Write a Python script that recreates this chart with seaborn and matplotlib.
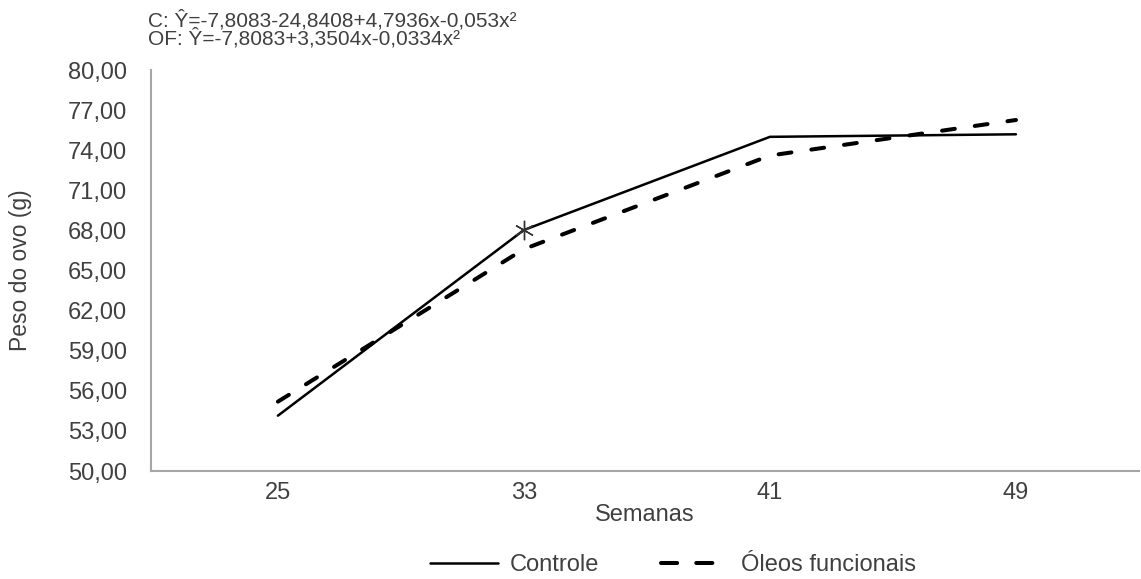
import numpy as np
import pandas as pd
import matplotlib
matplotlib.use("Agg")
import matplotlib.pyplot as plt
import seaborn as sns
from matplotlib.ticker import FuncFormatter

# Egg weight by week of age for each treatment
semanas = [25, 33, 41, 49]
controle = [54.14, 68.03, 75.00, 75.19]
oleos_funcionais = [55.19, 66.60, 73.60, 76.26]
series_nomes = ["Controle", "Óleos funcionais"]
eq_controle = "C: Ŷ=-7,8083-24,8408+4,7936x-0,053x²"
eq_oleos = "OF: Ŷ=-7,8083+3,3504x-0,0334x²"
y_ticks = [50, 53, 56, 59, 62, 65, 68, 71, 74, 77, 80]

df = pd.DataFrame({
    "Semanas": semanas * 2,
    "Peso": controle + oleos_funcionais,
    "Tratamento": [series_nomes[0]] * len(semanas) + [series_nomes[1]] * len(semanas),
})

sns.set_theme(style="white")
plt.rcParams["font.family"] = ["Liberation Sans", "DejaVu Sans"]
text_color = "#404040"

fig = plt.figure(figsize=(11.41, 5.79), dpi=100)
ax = fig.add_axes([0.1323, 0.1865, 0.8659, 0.6926])

sns.lineplot(
    data=df, x="Semanas", y="Peso", style="Tratamento",
    style_order=series_nomes,
    dashes={series_nomes[0]: "", series_nomes[1]: (3.2, 5)},
    color="black", ax=ax, legend=False,
)
lines = ax.get_lines()
lines[0].set_linewidth(1.8)
lines[1].set_linewidth(2.9)
lines[1].set_dash_capstyle("round")

# significance mark on the Controle curve at week 33
ax.plot([semanas[1]], [controle[1]], linestyle="none", marker=(6, 2, 0),
        markersize=14, markeredgewidth=1.0, color="#333333")

ax.set_xlim(semanas[0] - 0.516 * 8, semanas[-1] + 0.5 * 8)
ax.set_ylim(50, 80)
ax.set_xticks(semanas)
ax.set_yticks(y_ticks)
ax.yaxis.set_major_formatter(FuncFormatter(lambda v, p: f"{v:.2f}".replace(".", ",")))
ax.tick_params(axis="both", length=0, labelsize=17, colors=text_color)
ax.tick_params(axis="y", pad=17)
ax.tick_params(axis="x", pad=8)

for side in ["top", "right"]:
    ax.spines[side].set_visible(False)
for side in ["left", "bottom"]:
    ax.spines[side].set_color("#a6a6a6")
    ax.spines[side].set_linewidth(1.5)

ax.set_xlabel("Semanas", fontsize=17, color=text_color, labelpad=0)
ax.set_ylabel("Peso do ovo (g)", fontsize=16.5, color=text_color)
ax.yaxis.set_label_coords(-0.1204, 0.5)

# regression equations, stacked tightly above the plot
fig.text(148 / 1141, 1 - 10 / 579, eq_controle + "\n" + eq_oleos, fontsize=15,
         color=text_color, ha="left", va="top", linespacing=0.84)

handles = [
    plt.Line2D([], [], color="black", linewidth=1.8),
    plt.Line2D([], [], color="black", linewidth=2.9, dashes=(4, 4.75),
               dash_capstyle="round"),
]
fig.legend(handles, series_nomes, loc="center", bbox_to_anchor=(673 / 1141, 1 - 565 / 579),
           ncol=2, frameon=False, fontsize=17, handlelength=2.9, handletextpad=0.5,
           columnspacing=2.6, labelcolor=text_color)

fig.savefig("out.png", dpi=100)
